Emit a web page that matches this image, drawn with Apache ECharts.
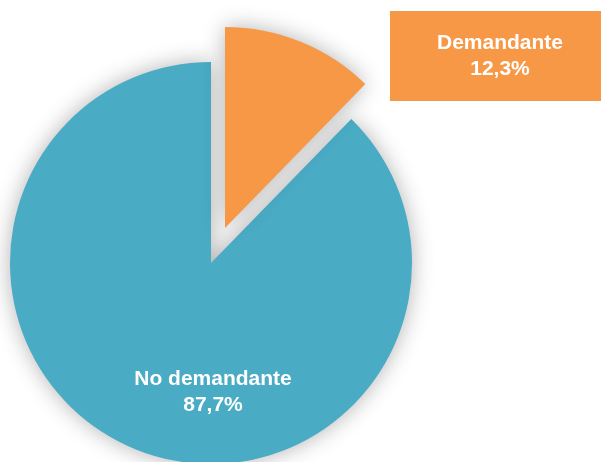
<!DOCTYPE html>
<html>
<head>
<meta charset="utf-8">
<script src="https://cdn.jsdelivr.net/npm/echarts@6/dist/echarts.min.js"></script>
<style>
  html, body { margin: 0; padding: 0; background: #fff; }
  #chart { width: 601px; height: 462px; }
</style>
</head>
<body>
<div id="chart"></div>
<script>
const categories = ['Demandante', 'No demandante'];
const shares = [12.3, 87.7];
const shareLabels = ['12,3%', '87,7%'];
const colors = ['#f79847', '#4aabc5'];

const chart = echarts.init(document.getElementById('chart'), null, { renderer: 'canvas' });

// label boxes sit at fixed spots in the original, not at slice mid-angles
const labelSpots = [
  { x: 500, y: 56 },
  { x: 213, y: 392 },
];

// the pulled-out slice is drawn by a second pie with a shifted centre,
// each pie hides the other slice (transparent fill casts no shadow)
function pieSeries(center, shownIndex) {
  return {
    type: 'pie',
    center,
    radius: 201,
    startAngle: 90,
    clockwise: true,
    silent: true,
    emphasis: { disabled: true },
    itemStyle: {
      shadowBlur: 22,
      shadowColor: 'rgba(0, 0, 0, 0.3)',
    },
    labelLine: { show: false },
    label: {
      show: true,
      position: 'inside',
      color: '#ffffff',
      fontFamily: 'Liberation Sans, Arial, sans-serif',
      fontWeight: 'bold',
      fontSize: 21,
      lineHeight: 26,
      align: 'center',
      formatter: (p) => p.name + '\n' + shareLabels[p.dataIndex],
    },
    labelLayout: (params) => ({
      x: labelSpots[params.dataIndex].x,
      y: labelSpots[params.dataIndex].y,
      align: 'center',
      verticalAlign: 'middle',
    }),
    data: categories.map((name, i) => {
      const shown = i === shownIndex;
      return {
        name,
        value: shares[i],
        itemStyle: shown ? { color: colors[i] } : { color: 'rgba(0,0,0,0)', shadowBlur: 0 },
        label: !shown
          ? { show: false }
          : i === 0
            ? { backgroundColor: colors[0], padding: [19, 47, 19, 47] }
            : {},
      };
    }),
  };
}

chart.setOption({
  backgroundColor: '#ffffff',
  animation: false,
  series: [
    pieSeries([211, 263], 1),
    pieSeries([225, 228], 0),
  ],
});
</script>
</body>
</html>
